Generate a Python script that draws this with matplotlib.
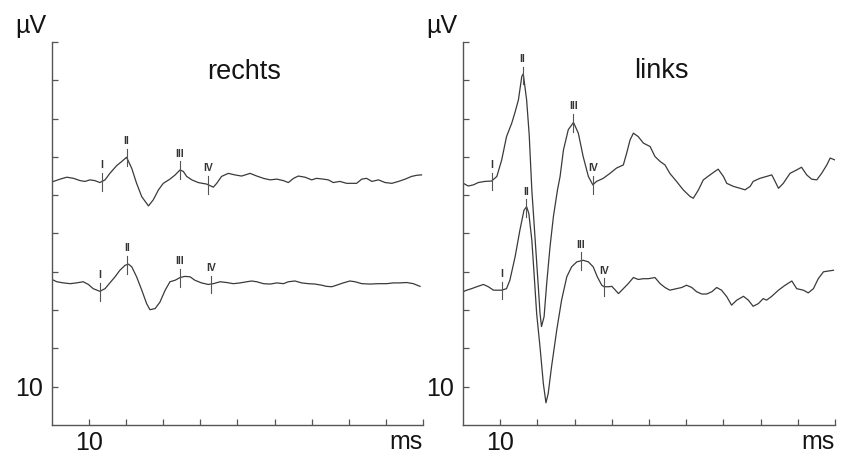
import matplotlib
matplotlib.use("Agg")
import matplotlib.pyplot as plt
import numpy as np

plt.rcParams['font.family'] = ['Liberation Sans', 'DejaVu Sans']

# ---------------- data (time in ms, amplitude in scale units) ----------------
titles = ["rechts", "links"]
wave_labels = ["I", "II", "III", "IV"]
x_ticks = [10, 11, 12, 13, 14, 15, 16, 17, 18, 19]
x_ticklabels = ["10", "", "", "", "", "", "", "", "", ""]
y_ticks = [1, 2, 3, 4, 5, 6, 7, 8, 9, 10]
y_ticklabels = ["10", "", "", "", "", "", "", "", "", ""]
y_unit = "\u00b5V"
x_unit = "ms"

t_rechts_oben = [9.04, 9.22, 9.40, 9.58, 9.76, 9.89, 10.02, 10.16, 10.29, 10.43,
                 10.56, 10.74, 10.88, 11.01, 11.15, 11.28, 11.42, 11.60, 11.73, 11.87,
                 12.00, 12.18, 12.32, 12.45, 12.54, 12.63, 12.77, 12.94, 13.17, 13.35,
                 13.44, 13.57, 13.75, 13.93, 14.11, 14.34, 14.52, 14.70, 14.88, 15.06,
                 15.24, 15.37, 15.51, 15.64, 15.82, 16.00, 16.13, 16.31, 16.45, 16.58,
                 16.76, 16.94, 17.21, 17.35, 17.48, 17.62, 17.80, 17.98, 18.16, 18.34,
                 18.52, 18.69, 18.83, 18.96]
a_rechts_oben = [-0.04, 0.02, 0.07, 0.04, -0.02, -0.04, 0.00, -0.02, -0.07, 0.00,
                 0.17, 0.37, 0.48, 0.59, 0.30, -0.09, -0.44, -0.68, -0.52, -0.26,
                 -0.09, 0.02, 0.13, 0.26, 0.22, 0.09, 0.00, -0.07, -0.11, -0.19,
                 -0.09, 0.09, 0.17, 0.13, 0.10, 0.17, 0.10, 0.04, 0.00, 0.02,
                 -0.02, -0.07, 0.04, 0.10, 0.07, 0.00, 0.04, 0.02, 0.00, -0.07,
                 -0.04, -0.09, -0.09, 0.02, 0.04, -0.04, 0.00, -0.07, -0.09, -0.04,
                 0.02, 0.09, 0.12, 0.13]
m_rechts_oben = [10.34, 11.01, 12.45, 13.20]

t_rechts_unten = [9.00, 9.13, 9.31, 9.49, 9.66, 9.84, 9.98, 10.11, 10.29, 10.43,
                  10.56, 10.70, 10.83, 10.97, 11.06, 11.15, 11.28, 11.42, 11.55, 11.64,
                  11.78, 11.91, 12.05, 12.18, 12.32, 12.45, 12.58, 12.72, 12.85, 13.03,
                  13.21, 13.35, 13.53, 13.71, 13.89, 14.07, 14.25, 14.38, 14.52, 14.70,
                  14.88, 15.06, 15.24, 15.37, 15.55, 15.73, 15.91, 16.09, 16.27, 16.40,
                  16.54, 16.67, 16.85, 17.03, 17.17, 17.35, 17.57, 17.80, 18.02, 18.20,
                  18.38, 18.56, 18.74, 18.92]
a_rechts_unten = [0.09, 0.03, 0.00, -0.02, 0.00, 0.03, -0.04, -0.15, -0.22, -0.15,
                  0.00, 0.16, 0.33, 0.46, 0.49, 0.42, 0.16, -0.19, -0.54, -0.70,
                  -0.67, -0.50, -0.19, 0.03, 0.07, 0.14, 0.17, 0.16, 0.07, 0.00,
                  -0.04, -0.02, 0.03, 0.01, -0.02, 0.00, 0.03, 0.05, 0.03, -0.02,
                  -0.03, 0.00, -0.02, 0.03, 0.05, 0.00, -0.02, -0.03, -0.06, -0.09,
                  -0.10, -0.06, 0.00, 0.05, 0.03, -0.02, -0.03, -0.02, -0.02, 0.00,
                  0.00, 0.01, -0.02, -0.09]
m_rechts_unten = [10.29, 11.03, 12.45, 13.29]

t_links_oben = [9.01, 9.14, 9.28, 9.41, 9.59, 9.77, 9.91, 10.04, 10.17, 10.31,
                10.40, 10.49, 10.58, 10.62, 10.71, 10.78, 10.85, 10.91, 10.97, 11.03,
                11.07, 11.11, 11.18, 11.25, 11.34, 11.43, 11.54, 11.61, 11.70, 11.83,
                11.97, 12.10, 12.23, 12.37, 12.49, 12.59, 12.77, 12.95, 13.13, 13.31,
                13.40, 13.49, 13.58, 13.71, 13.85, 14.03, 14.16, 14.30, 14.43, 14.56,
                14.74, 14.92, 15.10, 15.19, 15.33, 15.46, 15.64, 15.77, 15.86, 16.00,
                16.09, 16.27, 16.45, 16.58, 16.72, 16.80, 16.98, 17.16, 17.30, 17.39,
                17.48, 17.61, 17.79, 17.97, 18.10, 18.24, 18.37, 18.51, 18.64, 18.78,
                18.87, 19.00]
a_links_oben = [0.04, -0.03, 0.00, 0.06, 0.09, 0.10, 0.22, 0.65, 1.26, 1.61,
                1.90, 2.22, 2.83, 2.90, 2.22, 1.30, -0.13, -1.00, -1.87, -2.74,
                -3.35, -3.70, -3.44, -2.57, -1.61, -0.83, -0.13, 0.22, 0.91, 1.44,
                1.63, 1.35, 0.74, 0.22, 0.00, 0.09, 0.17, 0.30, 0.44, 0.52,
                0.83, 1.17, 1.35, 1.26, 1.09, 1.00, 0.74, 0.61, 0.52, 0.30,
                0.09, -0.13, -0.30, -0.35, -0.13, 0.13, 0.26, 0.35, 0.41, 0.22,
                0.04, -0.04, -0.09, -0.13, -0.04, 0.09, 0.17, 0.22, 0.26, 0.09,
                -0.09, 0.04, 0.30, 0.39, 0.46, 0.26, 0.15, 0.13, 0.30, 0.52,
                0.70, 0.65]
m_links_oben = [9.77, 10.60, 11.97, 12.50]

t_links_unten = [9.00, 9.10, 9.23, 9.37, 9.55, 9.68, 9.82, 9.95, 10.04, 10.17,
                 10.26, 10.40, 10.53, 10.64, 10.71, 10.77, 10.85, 10.91, 10.98, 11.07,
                 11.16, 11.23, 11.29, 11.38, 11.52, 11.65, 11.79, 11.92, 12.06, 12.23,
                 12.37, 12.50, 12.61, 12.73, 12.79, 12.91, 13.00, 13.06, 13.18, 13.31,
                 13.44, 13.58, 13.71, 13.85, 13.98, 14.16, 14.30, 14.43, 14.56, 14.74,
                 14.88, 15.01, 15.15, 15.28, 15.42, 15.55, 15.69, 15.82, 15.95, 16.09,
                 16.22, 16.36, 16.54, 16.67, 16.80, 16.94, 17.07, 17.16, 17.30, 17.48,
                 17.66, 17.84, 17.97, 18.15, 18.28, 18.42, 18.55, 18.69, 18.82, 18.96]
a_links_unten = [-0.04, 0.00, 0.04, 0.09, 0.15, 0.09, 0.00, 0.00, 0.00, 0.04,
                 0.26, 0.87, 1.57, 2.09, 2.18, 2.00, 1.31, 0.44, -0.61, -1.48,
                 -2.44, -2.94, -2.70, -2.00, -1.04, -0.26, 0.35, 0.61, 0.74, 0.78,
                 0.74, 0.61, 0.35, 0.13, 0.09, 0.09, 0.10, 0.04, -0.09, 0.04,
                 0.17, 0.33, 0.28, 0.30, 0.30, 0.33, 0.17, 0.07, 0.00, 0.04,
                 0.07, 0.13, 0.07, -0.04, -0.10, -0.10, -0.04, 0.07, 0.00, -0.17,
                 -0.39, -0.26, -0.16, -0.26, -0.42, -0.35, -0.22, -0.26, -0.16, 0.00,
                 0.13, 0.24, 0.04, 0.00, -0.07, 0.04, 0.30, 0.48, 0.50, 0.52]
m_links_unten = [10.04, 10.69, 12.17, 12.79]

# ---------------- layout / style ----------------
W, H = 847, 457
fig = plt.figure(figsize=(W / 100, H / 100), dpi=100)
fig.patch.set_facecolor("white")

panels = [
    dict(rect=[52 / W, 1 - 425 / H, 371 / W, 383 / H], title=titles[0],
         tpos=(0.5175, 0.903),
         traces=[(t_rechts_oben, a_rechts_oben, m_rechts_oben, 6.40),
                 (t_rechts_unten, a_rechts_unten, m_rechts_unten, 3.71)]),
    dict(rect=[463 / W, 1 - 425 / H, 372 / W, 383 / H], title=titles[1],
         tpos=(0.534, 0.906),
         traces=[(t_links_oben, a_links_oben, m_links_oben, 6.27),
                 (t_links_unten, a_links_unten, m_links_unten, 3.52)]),
]

line_col = "#3a3a3a"
axis_col = "#555555"
text_col = "#141414"
FS = 18

for p in panels:
    ax = fig.add_axes(p["rect"])
    ax.set_xlim(9, 19)
    ax.set_ylim(0, 10)
    for s in ["top", "right"]:
        ax.spines[s].set_visible(False)
    for s in ["left", "bottom"]:
        ax.spines[s].set_color(axis_col)
        ax.spines[s].set_linewidth(1.0)
    ax.set_xticks(x_ticks)
    ax.set_xticklabels(x_ticklabels)
    ax.set_yticks(y_ticks)
    ax.set_yticklabels(y_ticklabels)
    ax.tick_params(axis="both", direction="in", length=4, width=0.9,
                   colors=axis_col, labelcolor=text_col, labelsize=FS)
    ax.tick_params(axis="x", pad=4.5)
    ax.tick_params(axis="y", pad=6.5)

    for (t, a, marks, off) in p["traces"]:
        t = np.asarray(t)
        y = np.asarray(a) + off
        ax.plot(t, y, color=line_col, lw=0.9, solid_joinstyle="round")
        for lab, tm in zip(wave_labels, marks):
            ym = np.interp(tm, t, y)
            ax.plot([tm, tm], [ym - 0.24, ym + 0.22], color="#555555", lw=0.8)
            ax.text(tm, ym + 0.29, lab, ha="center", va="bottom",
                    fontsize=7.5, fontweight="bold", color="#333333")

    ax.text(p["tpos"][0], p["tpos"][1], p["title"], transform=ax.transAxes,
            ha="center", va="baseline", fontsize=19.5, color=text_col)
    ax.text(-0.016, 1.0235, y_unit, transform=ax.transAxes,
            ha="right", va="baseline", fontsize=FS, color=text_col)
    ax.text(1.0, -0.063, x_unit, transform=ax.transAxes,
            ha="right", va="baseline", fontsize=FS, color=text_col)

fig.savefig("out.png", dpi=100, facecolor="white")
